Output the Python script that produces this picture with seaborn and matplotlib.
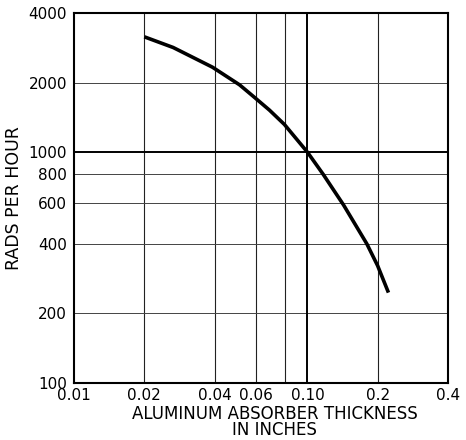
import matplotlib
matplotlib.use("Agg")
import matplotlib.pyplot as plt
import seaborn as sns
import pandas as pd
from matplotlib.ticker import FixedLocator, FixedFormatter, NullLocator

thickness = [0.02, 0.0266, 0.0392, 0.0512, 0.0594, 0.0688, 0.0797, 0.10, 0.117, 0.1283, 0.1429, 0.1799, 0.20, 0.2226]
rads = [3160, 2840, 2333, 1957, 1725, 1520, 1318, 1000, 800, 695, 590, 400, 322, 246]

x_ticks = [0.01, 0.02, 0.04, 0.06, 0.10, 0.2, 0.4]
x_labels = ["0.01", "0.02", "0.04", "0.06", "0.10", "0.2", "0.4"]
y_ticks = [100, 200, 400, 600, 800, 1000, 2000, 4000]
y_labels = ["100", "200", "400", "600", "800", "1000", "2000", "4000"]
x_grid = [0.02, 0.04, 0.06, 0.08, 0.2]
y_grid = [200, 400, 600, 800, 2000]

sns.set_theme(style="white")
plt.rcParams['font.family'] = ['DejaVu Sans']

fig = plt.figure(figsize=(4.66, 4.40), dpi=100)
ax = fig.add_axes([0.159, 0.130, 0.802, 0.840])
ax.set_xscale("log")
ax.set_yscale("log")
ax.set_xlim(0.01, 0.4)
ax.set_ylim(100, 4000)

for xv in x_grid:
    ax.axvline(xv, color="#222222", lw=0.8, zorder=1)
for yv in y_grid:
    ax.axhline(yv, color="#444444", lw=0.7, zorder=1)
ax.axvline(0.10, color="black", lw=1.4, zorder=1)
ax.axhline(1000, color="black", lw=1.4, zorder=1)

df = pd.DataFrame({"x": thickness, "y": rads})
sns.lineplot(data=df, x="x", y="y", ax=ax, color="black", lw=2.6, zorder=3)
for line in ax.lines:
    line.set_solid_joinstyle("round")
    line.set_solid_capstyle("butt")

ax.xaxis.set_major_locator(FixedLocator(x_ticks))
ax.xaxis.set_major_formatter(FixedFormatter(x_labels))
ax.xaxis.set_minor_locator(NullLocator())
ax.yaxis.set_major_locator(FixedLocator(y_ticks))
ax.yaxis.set_major_formatter(FixedFormatter(y_labels))
ax.yaxis.set_minor_locator(NullLocator())
ax.tick_params(axis="both", length=0, labelsize=11, colors="black")
ax.tick_params(axis="y", pad=5)
ax.tick_params(axis="x", pad=4)

for s in ax.spines.values():
    s.set_color("black")
    s.set_linewidth(1.5)

ax.set_xlabel("ALUMINUM ABSORBER THICKNESS\nIN INCHES", fontsize=12, color="black",
              linespacing=0.85, labelpad=1)
ax.xaxis.label.set_x(0.537)
ax.set_ylabel("RADS PER HOUR", fontsize=12.5, color="black", labelpad=4)

fig.savefig("out.png", dpi=100, facecolor="white")
